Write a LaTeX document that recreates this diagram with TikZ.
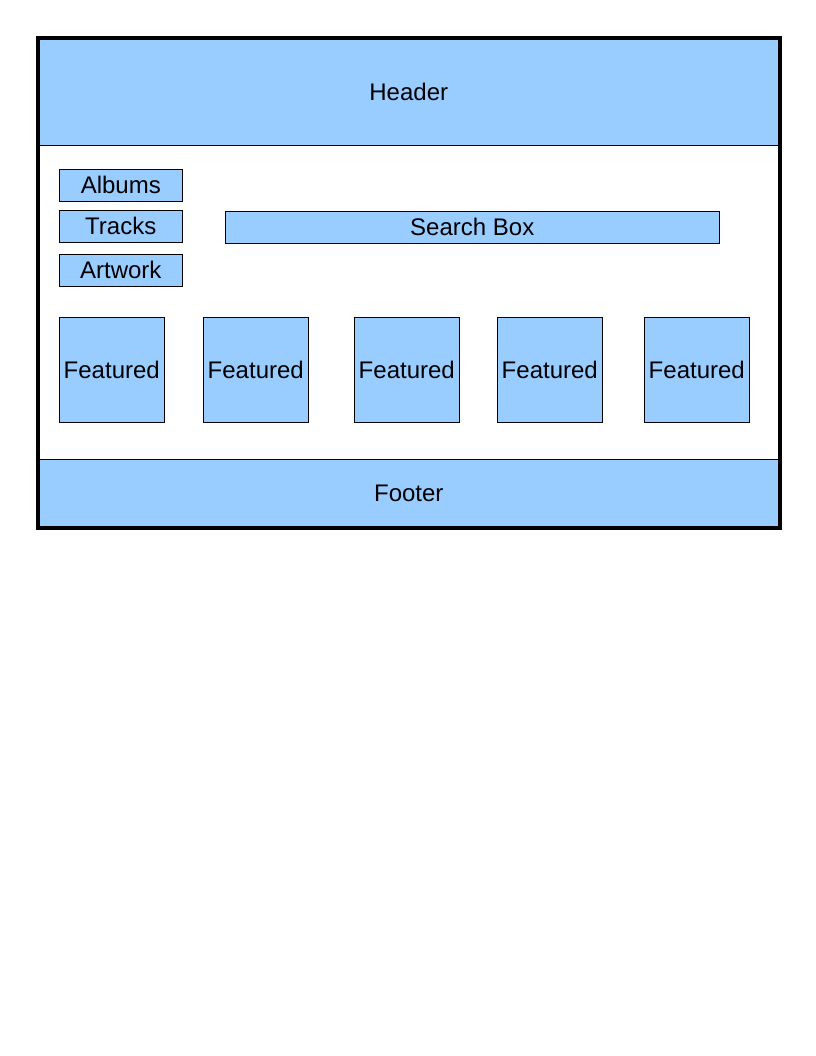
\documentclass[tikz,border=0pt]{standalone}
\usepackage{fontspec}
\setmainfont{Liberation Sans}
\usetikzlibrary{positioning}
\definecolor{Sky}{HTML}{99CCFF}
\definecolor{Ink}{HTML}{000000}
\tikzset{
  block/.style={draw=Ink,fill=Sky,anchor=north west,inner sep=0pt,text=Ink,font=\fontsize{18}{21}\selectfont},
  band/.style={block,minimum width=555.75pt},
  navbox/.style={block,minimum width=92.25pt,minimum height=24pt},
  featbox/.style={block,minimum width=78.75pt,minimum height=78.75pt},
  frame/.style={draw=Ink,line width=3pt}
}
\begin{document}
\begin{tikzpicture}[x=0.75pt,y=-0.75pt]
\useasboundingbox (0,0) rectangle (816,1056);
\node[band,minimum height=80.25pt] (header) at (38,38) {Header};
\node[band,minimum height=51pt] (footer) at (38,459) {Footer};
\node[navbox] (albums) at (59,169) {Albums};
\node[navbox] (tracks) at (59,210) {Tracks};
\node[navbox] (artwork) at (59,254) {Artwork};
\node[block,minimum width=370.5pt,minimum height=24pt] (search) at (225,211) {Search Box};
\foreach \i/\x in {1/59,2/203,3/354,4/497,5/644}
  \node[featbox] (feat\i) at (\x,317) {Featured};
\draw[frame] (header.north west) rectangle (footer.south east);
\end{tikzpicture}
\end{document}
